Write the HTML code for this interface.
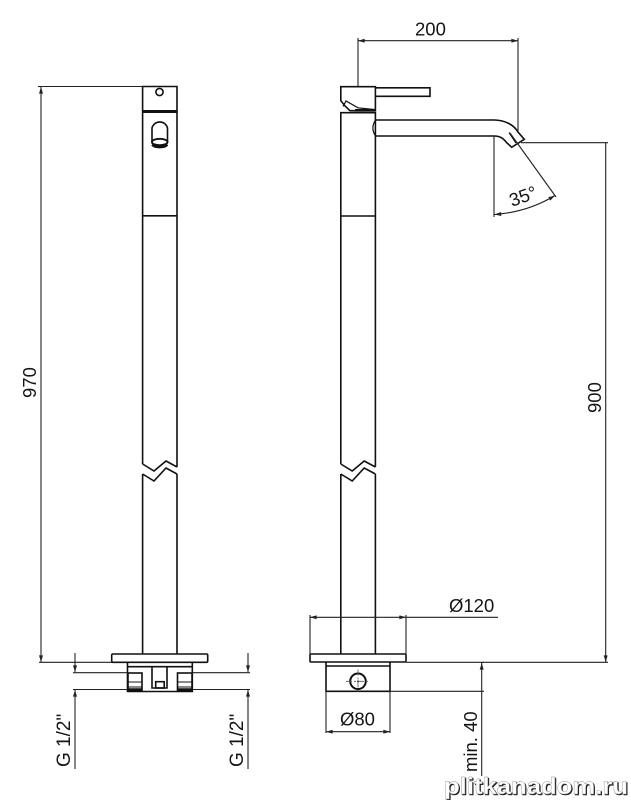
<!DOCTYPE html>
<html><head><meta charset="utf-8"><style>
html,body{margin:0;padding:0;background:#fff}
svg{display:block}
text{font-family:"Liberation Sans",Arial,sans-serif;font-size:18.5px;fill:#151515}
</style></head><body>
<svg width="631" height="800" viewBox="0 0 631 800" xmlns="http://www.w3.org/2000/svg">
<defs>
<marker id="a" viewBox="0 0 10 6" refX="10" refY="3" markerWidth="10" markerHeight="4" orient="auto-start-reverse" markerUnits="userSpaceOnUse"><path d="M0 0L10 3L0 6Z" fill="#222"/></marker>
</defs>
<!-- LEFT VIEW -->
<g fill="none" stroke="#111" stroke-width="1.6">
<path d="M142.6 464V86.5H177V467"/>
<path d="M142.6 464L154 471L166 461L177 467"/>
<path d="M142.6 474L154 481L166 468L177 474"/>
<path d="M142.6 474V654M177 474V654"/>
<path d="M142.6 111.5H177" stroke-width="3"/>
<path d="M142.6 215.8H177"/>
<circle cx="159.5" cy="92" r="3.6"/>
<path d="M152 142V128A8 8 0 0 1 167.5 128V142A7.8 5.5 0 0 1 152 142Z"/>
<ellipse cx="159.7" cy="142" rx="7.8" ry="3.2" stroke-width="1.8"/>
<path d="M152.5 144.5A7.5 3.2 0 0 0 167 144.5" stroke-width="3"/>
<rect x="111.7" y="654" width="96" height="8.3" rx="1.2"/>
<path d="M127.5 662.3V691.5H192.3V662.3M127.5 666.7H192.3"/>
<rect x="128" y="673" width="14" height="18"/>
<rect x="177.5" y="673" width="14.5" height="18"/>
<path d="M128 689.8H142M177.5 689.8H192" stroke-width="3.2"/>
<path d="M128 682H142M128 687H142M177.5 682H192M177.5 687H192" stroke-width="1"/>
<path d="M152 667V688H167V667"/>
<rect x="155.7" y="681.7" width="8.5" height="6.3"/>
</g>
<!-- RIGHT VIEW -->
<g fill="none" stroke="#111" stroke-width="1.6">
<path d="M340.8 464V112.7H375.4V467M340.8 464L352.2 471L364.2 461L375.4 467"/>
<path d="M340.8 474L352.2 481L364.2 468L375.4 474M340.8 474V654M375.4 474V654"/>
<path d="M340.8 216H375.4"/>
<path d="M375.4 110.7H350L345 106L340.8 100.7V86.7H375.4Z"/>
<path d="M343 106.5L346 101L358 107.8L375 109.6" stroke-width="1.2"/>
<path d="M355 110.3H375.4" stroke-width="2.6"/>
<path d="M375.4 87.8H430V96.3H375.4"/>
<path d="M375.4 120H494C505 120 514 125 518 132L524.3 139.3L511.7 147.3L506.7 142.7C503 138 500 136 494 136H375.4"/>
<path d="M375.4 120C372 126 372 130 375.4 136" stroke-width="1.2"/>
<path d="M509 132.5L516 143" stroke-width="1.2"/>
<rect x="310" y="654" width="96" height="8" rx="1"/>
<path d="M326 662V691.3H390V662M326 666H390"/>
<circle cx="358" cy="681.3" r="7.8" stroke-width="2"/>
</g>
<path d="M346 681.3H370M358 669.5V693" fill="none" stroke="#555" stroke-width=".8" stroke-dasharray="6 2 2 2"/>
<circle cx="358" cy="681.3" r=".9" fill="#222"/>
<!-- DIMENSIONS -->
<g fill="none" stroke="#222" stroke-width="1.1">
<path d="M38 86.5H142M39 662.3H112"/>
<path d="M41 87V662" marker-start="url(#a)" marker-end="url(#a)"/>
<path d="M73 672.7H127.5M192.3 672.7H250M73 689.5H127.5M192.3 689.5H250"/>
<path d="M75 653V672" marker-end="url(#a)"/>
<path d="M248 653V672" marker-end="url(#a)"/>
<path d="M75 769V690" marker-end="url(#a)"/>
<path d="M248 769V690" marker-end="url(#a)"/>
<path d="M358 86V38M518 132V38"/>
<path d="M358 40.7H518" marker-start="url(#a)" marker-end="url(#a)"/>
<path d="M521 142.7H608M406 662.3H608"/>
<path d="M605.7 143V662" marker-end="url(#a)"/>
<path d="M494 136V217"/>
<path d="M510 133L556 197"/>
<path d="M494.5 214.5Q528 212 555 195.5" marker-start="url(#a)" marker-end="url(#a)"/>
<path d="M310 615V654M406 615V654"/>
<path d="M310 617.3H406" marker-start="url(#a)" marker-end="url(#a)"/>
<path d="M406 617.3H498"/>
<path d="M326 691V733M390 691V733"/>
<path d="M326 731.7H390" marker-start="url(#a)" marker-end="url(#a)"/>
<path d="M390 691.3H484M481 662.5H484"/>
<path d="M481.7 691V663" marker-end="url(#a)"/>
<path d="M481.7 691V776"/>
</g>
<!-- TEXT -->
<text x="415" y="35.5">200</text>
<text transform="translate(512 207) rotate(-20)">35°</text>
<text x="449" y="612">Ø120</text>
<text x="340" y="725.7">Ø80</text>
<text transform="translate(36 398) rotate(-90)">970</text>
<text transform="translate(601 413) rotate(-90)">900</text>
<text transform="translate(70 767) rotate(-90)" style="font-size:19px">G 1/2"</text>
<text transform="translate(243 767) rotate(-90)" style="font-size:19px">G 1/2"</text>
<text transform="translate(477 772) rotate(-90)">min. 40</text>
<!-- WATERMARK -->
<text x="444" y="794" textLength="184" lengthAdjust="spacingAndGlyphs" style="font-size:23px;font-weight:bold;fill:#222;stroke:#222;stroke-width:.6" transform="translate(1 1)">plitkanadom.ru</text>
<text x="444" y="794" textLength="184" lengthAdjust="spacingAndGlyphs" style="font-size:23px;font-weight:bold;fill:#fff;stroke:#999;stroke-width:.4">plitkanadom.ru</text>
</svg>
</body></html>
